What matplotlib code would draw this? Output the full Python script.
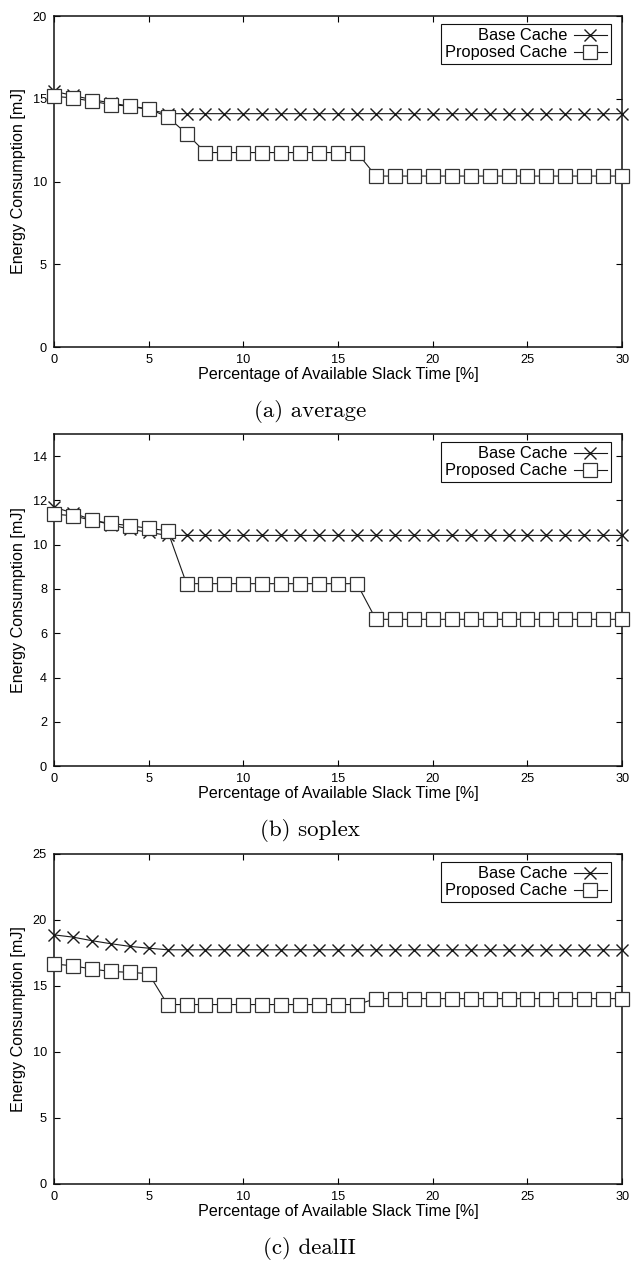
import matplotlib
matplotlib.use('Agg')
import matplotlib.pyplot as plt

plt.rcParams['font.family'] = ['Liberation Sans', 'DejaVu Sans']

slack = list(range(0, 31))

avg_base = [15.45, 15.2, 14.95, 14.75, 14.55, 14.35, 14.1, 14.1, 14.1, 14.1,
            14.1, 14.1, 14.1, 14.1, 14.1, 14.1, 14.1, 14.1, 14.1, 14.1,
            14.1, 14.1, 14.1, 14.1, 14.1, 14.1, 14.1, 14.1, 14.1, 14.1, 14.1]
avg_prop = [15.15, 15.05, 14.85, 14.65, 14.55, 14.4, 13.9, 12.9, 11.75, 11.75,
            11.75, 11.75, 11.75, 11.75, 11.75, 11.75, 11.75, 10.33, 10.33, 10.33,
            10.33, 10.33, 10.33, 10.33, 10.33, 10.33, 10.33, 10.33, 10.33, 10.33, 10.33]

soplex_base = [11.7, 11.43, 11.13, 10.9, 10.7, 10.56, 10.42, 10.42, 10.42, 10.42,
               10.42, 10.42, 10.42, 10.42, 10.42, 10.42, 10.42, 10.42, 10.42, 10.42,
               10.42, 10.42, 10.42, 10.42, 10.42, 10.42, 10.42, 10.42, 10.42, 10.42, 10.42]
soplex_prop = [11.38, 11.31, 11.1, 10.96, 10.86, 10.74, 10.63, 8.24, 8.24, 8.24,
               8.24, 8.24, 8.24, 8.24, 8.24, 8.24, 8.24, 6.63, 6.63, 6.63,
               6.63, 6.63, 6.63, 6.63, 6.63, 6.63, 6.63, 6.63, 6.63, 6.63, 6.63]

deal_base = [18.87, 18.7, 18.43, 18.2, 18.0, 17.86, 17.74, 17.74, 17.74, 17.74,
             17.74, 17.74, 17.74, 17.74, 17.74, 17.74, 17.74, 17.74, 17.74, 17.74,
             17.74, 17.74, 17.74, 17.74, 17.74, 17.74, 17.74, 17.74, 17.74, 17.74, 17.74]
deal_prop = [16.66, 16.53, 16.28, 16.1, 16.03, 15.93, 13.59, 13.59, 13.59, 13.59,
             13.59, 13.59, 13.59, 13.59, 13.59, 13.59, 13.59, 14.04, 14.04, 14.04,
             14.04, 14.04, 14.04, 14.04, 14.04, 14.04, 14.04, 14.04, 14.04, 14.04, 14.04]

panels = [
    # (base, proposed, ymax, ystep, caption, axes rect)
    (avg_base, avg_prop, 20, 5, '(a) average', [0.0854, 0.7248, 0.899, 0.2625]),
    (soplex_base, soplex_prop, 15, 2, '(b) soplex', [0.0854, 0.3925, 0.899, 0.2633]),
    (deal_base, deal_prop, 25, 5, '(c) dealII', [0.0854, 0.0611, 0.899, 0.2617]),
]

fig = plt.figure(figsize=(6.32, 12.61), dpi=100)
line_col = '#1a1a1a'

for base, prop, ymax, ystep, caption, rect in panels:
    ax = fig.add_axes(rect)
    ax.plot(slack, base, color=line_col, lw=0.8, marker='x', ms=8.5, mew=1.0,
            label='Base Cache', clip_on=False, zorder=3)
    ax.plot(slack, prop, color=line_col, lw=0.8, marker='s', ms=9.5, mew=0.9,
            mfc='white', mec='#333333', label='Proposed Cache', clip_on=False, zorder=4)
    ax.set_xlim(0, 30)
    ax.set_ylim(0, ymax)
    ax.set_xticks(range(0, 31, 5))
    ax.set_yticks(range(0, ymax + 1, ystep))
    ax.tick_params(direction='in', length=4, width=0.8, top=True, right=True,
                   labelsize=9.2, pad=5)
    for sp in ax.spines.values():
        sp.set_linewidth(1.1)
        sp.set_color('#111111')
    ax.set_xlabel('Percentage of Available Slack Time [%]', fontsize=11.6, labelpad=0.5)
    ax.set_ylabel('Energy Consumption [mJ]', fontsize=11.6, labelpad=5)
    leg = ax.legend(loc='upper right', bbox_to_anchor=(0.98, 0.975), markerfirst=False,
                    numpoints=1, fancybox=False, framealpha=1, edgecolor='#111111',
                    fontsize=11.8, handlelength=2.0, borderpad=0.25, labelspacing=0.12,
                    handletextpad=0.4, borderaxespad=0)
    leg.get_frame().set_linewidth(0.8)
    x0, y0, w, h = rect
    fig.text(0.49, y0 - 0.051, caption, ha='center', va='center',
             fontsize=16.5, family='cmr10')

fig.savefig('out.png', dpi=100)
